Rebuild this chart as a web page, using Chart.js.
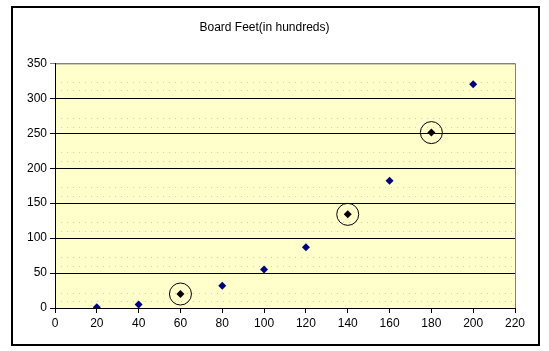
<!DOCTYPE html>
<html>
<head>
<meta charset="utf-8">
<script src="https://cdn.jsdelivr.net/npm/chart.js@4/dist/chart.umd.min.js"></script>
<style>
  body { margin: 0; background: #fff; }
  #wrap { width: 549px; height: 351px; }
</style>
</head>
<body>
<div id="wrap"><canvas id="boardChart" width="549" height="351"></canvas></div>
<script>
// data
const xValues = [20, 40, 60, 80, 100, 120, 140, 160, 180, 200];
const yValues = [1, 5, 20, 32, 55, 87, 134, 182, 251, 320];
const circled = [60, 140, 180];
const xTicks = [0, 20, 40, 60, 80, 100, 120, 140, 160, 180, 200, 220];
const yTicks = [0, 50, 100, 150, 200, 250, 300, 350];
// faint dotted lines in the yellow plot area
const dotLines = [10, 21, 60, 72, 110, 122, 160, 172, 210, 222, 258, 271, 311, 323];

const points = xValues.map((x, i) => ({ x: x, y: yValues[i] }));
const marks = points.filter(p => circled.includes(p.x));

const frame = {
  id: 'frame',
  beforeDraw(chart) {
    const c = chart.ctx, a = chart.chartArea;
    c.save();
    c.fillStyle = '#fff';
    c.fillRect(0, 0, chart.width, chart.height);
    c.strokeStyle = '#000';
    c.lineWidth = 2;
    c.strokeRect(12, 7, 527, 338);
    c.fillStyle = '#ffffcc';
    c.fillRect(a.left, a.top, a.right - a.left, a.bottom - a.top);
    c.strokeStyle = '#808080';
    c.lineWidth = 1;
    c.strokeRect(a.left + 0.5, a.top + 0.5, a.right - a.left, a.bottom - a.top);
    c.restore();
  }
};

new Chart(document.getElementById('boardChart').getContext('2d'), {
  type: 'scatter',
  data: {
    datasets: [
      {
        data: points,
        pointStyle: 'rectRot',
        pointRadius: 4,
        pointBackgroundColor: points.map(p => circled.includes(p.x) ? '#000' : '#000080'),
        pointBorderColor: points.map(p => circled.includes(p.x) ? '#000' : '#000080'),
        pointBorderWidth: 0,
        showLine: false
      },
      {
        data: marks,
        pointStyle: 'circle',
        pointRadius: 11,
        pointBackgroundColor: 'rgba(0,0,0,0)',
        pointBorderColor: '#000',
        pointBorderWidth: 1,
        showLine: false
      }
    ]
  },
  options: {
    responsive: false,
    animation: false,
    layout: { padding: { left: 14, right: 34, top: 15, bottom: 14 } },
    plugins: {
      legend: { display: false },
      tooltip: { enabled: false },
      title: {
        display: true,
        text: 'Board Feet(in hundreds)',
        color: '#000',
        font: { family: 'Liberation Sans', size: 12, weight: 'normal' },
        padding: { top: 5, bottom: 29 }
      }
    },
    scales: {
      dots: {
        position: 'right',
        min: 0,
        max: 350,
        display: true,
        afterFit(s) { s.width = 0; },
        afterBuildTicks(s) { s.ticks = dotLines.map(v => ({ value: v })); },
        border: { display: false, dash: [1, 5] },
        grid: { color: '#ffcc55', lineWidth: 1, drawTicks: false },
        ticks: { display: false }
      },
      x: {
        type: 'linear',
        min: 0,
        max: 220,
        afterFit(s) { s.height = 29; },
        afterBuildTicks(s) { s.ticks = xTicks.map(v => ({ value: v })); },
        border: { color: '#000', width: 1 },
        grid: { drawOnChartArea: false, drawTicks: true, tickLength: 5, color: '#000' },
        ticks: { color: '#000', padding: 3, maxRotation: 0, font: { family: 'Liberation Sans', size: 12 } }
      },
      y: {
        min: 0,
        max: 350,
        afterFit(s) { s.width = 41; },
        afterBuildTicks(s) { s.ticks = yTicks.map(v => ({ value: v })); },
        border: { color: '#000', width: 1 },
        grid: {
          color: ctx => ctx.tick && ctx.tick.value === 350 ? '#808080' : '#000',
          drawTicks: true,
          tickLength: 5
        },
        ticks: { color: '#000', padding: 3, font: { family: 'Liberation Sans', size: 12 } }
      }
    }
  },
  plugins: [frame]
});
</script>
</body>
</html>
